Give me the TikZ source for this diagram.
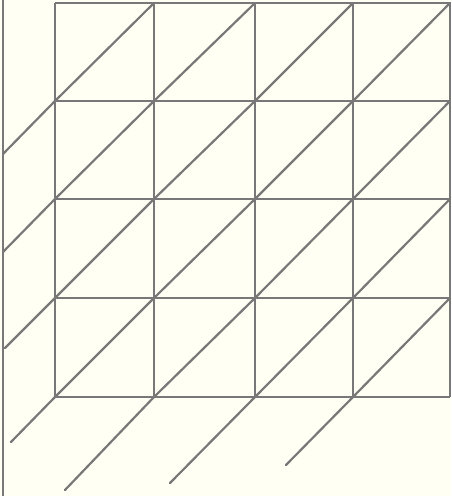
\documentclass[tikz,border=0pt]{standalone}
\definecolor{bgcream}{RGB}{255,255,243}
\definecolor{linegray}{RGB}{120,120,120}
\begin{document}
\begin{tikzpicture}[x=1pt,y=-1pt,
  gridline/.style={draw=linegray,line width=2.6pt},
  diagline/.style={draw=linegray,line width=2.2pt,line cap=round}]
\fill[bgcream] (0,0) rectangle (451,496);
\useasboundingbox (0,0) rectangle (451,496);
% grid positions
\def\xa{55}\def\xb{154}\def\xc{255}\def\xd{353}\def\xe{450}
\def\ya{3}\def\yb{101}\def\yc{199}\def\yd{298}\def\ye{397}
% left vertical line
\draw[gridline] (3,0) -- (3,496);
% diagonals inside cells
\foreach \xl/\xr in {\xa/\xb,\xb/\xc,\xc/\xd,\xd/\xe}{
  \foreach \yt/\ybt in {\ya/\yb,\yb/\yc,\yc/\yd,\yd/\ye}{
    \draw[diagline] (\xl,\ybt) -- (\xr,\yt);
  }
}
% extensions on the left
\draw[diagline] (\xa,\yb) -- (3,154);
\draw[diagline] (\xa,\yc) -- (3,252);
\draw[diagline] (\xa,\yd) -- (5,348);
% extensions below
\draw[diagline] (\xa,\ye) -- (11,442);
\draw[diagline] (\xb,\ye) -- (65,490);
\draw[diagline] (\xc,\ye) -- (170,483);
\draw[diagline] (\xd,\ye) -- (286,465);
% grid
\foreach \x in {\xa,\xb,\xc,\xd,\xe}{
  \draw[gridline] (\x,\ya) -- (\x,\ye);
}
\foreach \y in {\ya,\yb,\yc,\yd,\ye}{
  \draw[gridline] (\xa,\y) -- (\xe,\y);
}
\end{tikzpicture}
\end{document}
